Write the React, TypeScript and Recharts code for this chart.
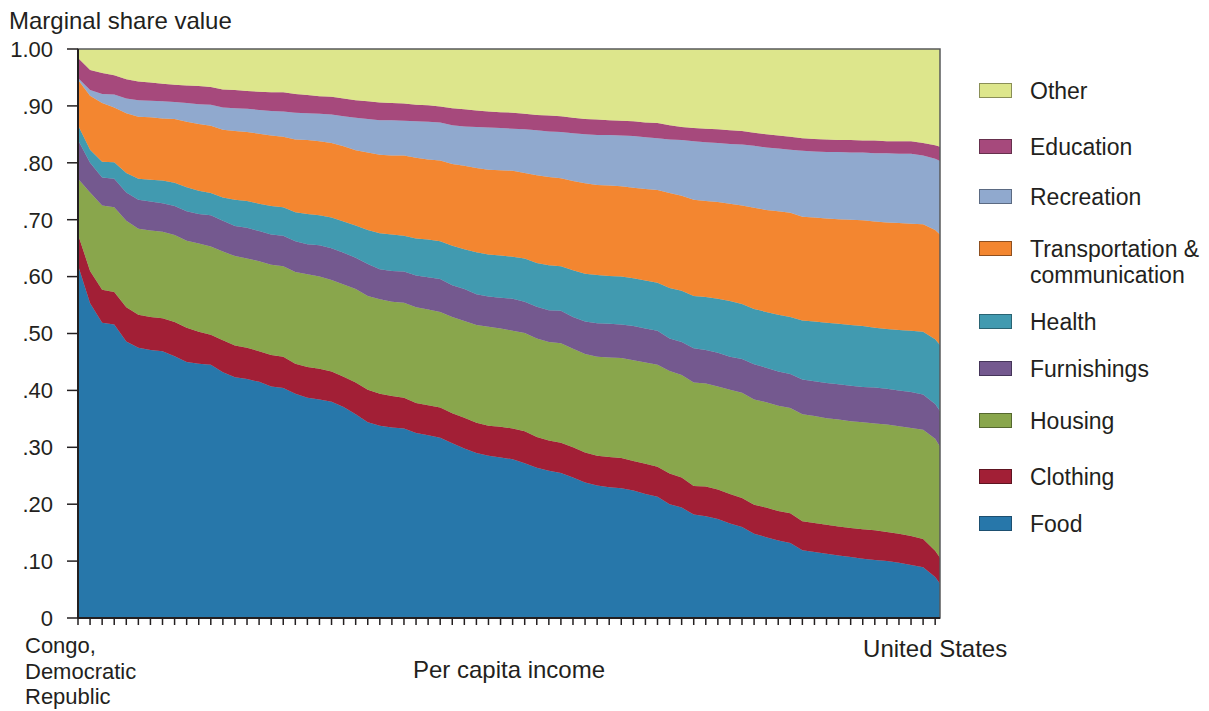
import React from "react";
import { AreaChart, Area, XAxis, YAxis, ReferenceArea } from "recharts";

// Countries ordered by per capita income (one tick per country group), last point at the frame edge
const xTicks = Array.from({ length: 72 }, (_, i) => i);
const positions = [...xTicks, 71.4];

const yTicks = [0, 0.1, 0.2, 0.3, 0.4, 0.5, 0.6, 0.7, 0.8, 0.9, 1.0];
const yTickLabels = ["0", ".10", ".20", ".30", ".40", ".50", ".60", ".70", ".80", ".90", "1.00"];

const firstCountry = "Congo, Democratic Republic";
const lastCountry = "United States";
const yTitle = "Marginal share value";
const xTitle = "Per capita income";

// Budget shares (stacked bottom -> top)
const food = [
  0.620, 0.553, 0.519, 0.516, 0.486, 0.475, 0.471, 0.469, 0.460, 0.450,
  0.447, 0.445, 0.432, 0.423, 0.420, 0.415, 0.407, 0.404, 0.394, 0.387,
  0.384, 0.380, 0.371, 0.358, 0.344, 0.338, 0.335, 0.333, 0.325, 0.321,
  0.317, 0.307, 0.298, 0.290, 0.285, 0.282, 0.279, 0.272, 0.264, 0.259,
  0.255, 0.247, 0.238, 0.233, 0.230, 0.228, 0.224, 0.218, 0.213, 0.200,
  0.194, 0.182, 0.179, 0.174, 0.166, 0.160, 0.148, 0.142, 0.136, 0.132,
  0.119, 0.116, 0.113, 0.110, 0.107, 0.104, 0.102, 0.100, 0.097, 0.093,
  0.089, 0.072, 0.060,
];
const clothing = [
  0.054, 0.057, 0.058, 0.057, 0.060, 0.058, 0.058, 0.058, 0.060, 0.060,
  0.056, 0.053, 0.056, 0.056, 0.055, 0.054, 0.055, 0.055, 0.053, 0.054,
  0.054, 0.053, 0.053, 0.056, 0.057, 0.056, 0.055, 0.054, 0.053, 0.053,
  0.053, 0.053, 0.054, 0.053, 0.053, 0.054, 0.054, 0.056, 0.054, 0.053,
  0.053, 0.053, 0.053, 0.052, 0.053, 0.053, 0.052, 0.053, 0.053, 0.054,
  0.053, 0.050, 0.052, 0.052, 0.052, 0.051, 0.051, 0.052, 0.052, 0.052,
  0.051, 0.051, 0.051, 0.051, 0.051, 0.052, 0.052, 0.051, 0.051, 0.051,
  0.050, 0.046, 0.046,
];
const housing = [
  0.098, 0.138, 0.148, 0.149, 0.152, 0.151, 0.152, 0.152, 0.153, 0.153,
  0.155, 0.155, 0.156, 0.157, 0.157, 0.158, 0.159, 0.159, 0.161, 0.163,
  0.162, 0.161, 0.162, 0.164, 0.165, 0.166, 0.166, 0.167, 0.168, 0.168,
  0.168, 0.169, 0.170, 0.172, 0.174, 0.173, 0.172, 0.173, 0.173, 0.173,
  0.175, 0.173, 0.173, 0.174, 0.175, 0.176, 0.177, 0.178, 0.179, 0.180,
  0.180, 0.182, 0.181, 0.181, 0.183, 0.185, 0.185, 0.185, 0.185, 0.185,
  0.188, 0.188, 0.187, 0.188, 0.188, 0.188, 0.188, 0.189, 0.189, 0.190,
  0.192, 0.197, 0.195,
];
const furnishings = [
  0.068, 0.052, 0.049, 0.050, 0.050, 0.051, 0.051, 0.050, 0.051, 0.052,
  0.052, 0.055, 0.054, 0.053, 0.054, 0.053, 0.053, 0.054, 0.054, 0.053,
  0.055, 0.056, 0.056, 0.055, 0.056, 0.053, 0.054, 0.055, 0.056, 0.057,
  0.058, 0.056, 0.056, 0.054, 0.053, 0.054, 0.056, 0.055, 0.056, 0.056,
  0.057, 0.056, 0.057, 0.059, 0.059, 0.059, 0.060, 0.060, 0.060, 0.057,
  0.058, 0.060, 0.059, 0.059, 0.058, 0.059, 0.062, 0.061, 0.060, 0.060,
  0.061, 0.061, 0.062, 0.062, 0.062, 0.062, 0.063, 0.063, 0.063, 0.063,
  0.062, 0.061, 0.063,
];
const health = [
  0.026, 0.023, 0.028, 0.029, 0.034, 0.037, 0.038, 0.040, 0.041, 0.042,
  0.041, 0.039, 0.041, 0.046, 0.047, 0.048, 0.050, 0.050, 0.051, 0.053,
  0.053, 0.054, 0.055, 0.057, 0.060, 0.063, 0.064, 0.063, 0.065, 0.066,
  0.066, 0.069, 0.070, 0.074, 0.074, 0.074, 0.074, 0.076, 0.077, 0.079,
  0.078, 0.082, 0.084, 0.085, 0.084, 0.084, 0.084, 0.084, 0.084, 0.089,
  0.090, 0.092, 0.093, 0.095, 0.098, 0.097, 0.097, 0.098, 0.100, 0.100,
  0.104, 0.105, 0.106, 0.106, 0.107, 0.107, 0.105, 0.105, 0.106, 0.108,
  0.110, 0.114, 0.116,
];
const transport = [
  0.080, 0.095, 0.103, 0.096, 0.105, 0.109, 0.110, 0.109, 0.112, 0.115,
  0.117, 0.118, 0.119, 0.121, 0.121, 0.123, 0.124, 0.124, 0.128, 0.130,
  0.130, 0.131, 0.132, 0.132, 0.136, 0.138, 0.139, 0.141, 0.142, 0.141,
  0.142, 0.144, 0.147, 0.148, 0.149, 0.150, 0.151, 0.150, 0.154, 0.155,
  0.155, 0.157, 0.159, 0.158, 0.159, 0.159, 0.159, 0.161, 0.163, 0.167,
  0.167, 0.169, 0.169, 0.170, 0.171, 0.173, 0.178, 0.179, 0.182, 0.183,
  0.182, 0.183, 0.183, 0.184, 0.185, 0.186, 0.187, 0.187, 0.188, 0.188,
  0.189, 0.192, 0.194,
];
const recreation = [
  0.003, 0.010, 0.016, 0.023, 0.026, 0.029, 0.029, 0.030, 0.030, 0.033,
  0.035, 0.037, 0.039, 0.040, 0.041, 0.042, 0.043, 0.044, 0.047, 0.047,
  0.048, 0.050, 0.053, 0.057, 0.059, 0.061, 0.062, 0.061, 0.064, 0.066,
  0.067, 0.068, 0.069, 0.072, 0.074, 0.074, 0.074, 0.077, 0.079, 0.080,
  0.081, 0.084, 0.086, 0.088, 0.089, 0.089, 0.091, 0.091, 0.091, 0.094,
  0.098, 0.103, 0.103, 0.104, 0.105, 0.107, 0.109, 0.110, 0.110, 0.111,
  0.116, 0.116, 0.117, 0.118, 0.118, 0.119, 0.120, 0.122, 0.122, 0.123,
  0.121, 0.125, 0.129,
];
const education = [
  0.035, 0.035, 0.037, 0.034, 0.034, 0.033, 0.032, 0.031, 0.030, 0.031,
  0.032, 0.031, 0.032, 0.032, 0.031, 0.032, 0.033, 0.034, 0.033, 0.032,
  0.031, 0.031, 0.031, 0.031, 0.031, 0.031, 0.030, 0.030, 0.029, 0.029,
  0.028, 0.030, 0.030, 0.029, 0.028, 0.028, 0.028, 0.027, 0.027, 0.028,
  0.028, 0.027, 0.027, 0.027, 0.026, 0.026, 0.026, 0.026, 0.027, 0.025,
  0.023, 0.023, 0.024, 0.024, 0.024, 0.024, 0.023, 0.023, 0.023, 0.023,
  0.022, 0.022, 0.022, 0.021, 0.022, 0.021, 0.022, 0.021, 0.022, 0.022,
  0.022, 0.024, 0.025,
];
const other = [
  0.016, 0.037, 0.042, 0.046, 0.053, 0.057, 0.059, 0.061, 0.063, 0.064,
  0.065, 0.067, 0.071, 0.072, 0.074, 0.075, 0.076, 0.076, 0.079, 0.081,
  0.083, 0.084, 0.087, 0.090, 0.092, 0.094, 0.095, 0.096, 0.098, 0.099,
  0.101, 0.104, 0.106, 0.108, 0.110, 0.111, 0.112, 0.114, 0.116, 0.117,
  0.118, 0.121, 0.123, 0.124, 0.125, 0.126, 0.127, 0.129, 0.130, 0.134,
  0.137, 0.139, 0.140, 0.141, 0.143, 0.144, 0.147, 0.150, 0.152, 0.154,
  0.157, 0.158, 0.159, 0.160, 0.160, 0.161, 0.161, 0.162, 0.162, 0.162,
  0.165, 0.169, 0.172,
];

const seriesKeys = ["Food", "Clothing", "Housing", "Furnishings", "Health", "Transportation & communication", "Recreation", "Education", "Other"];
const seriesValues = [food, clothing, housing, furnishings, health, transport, recreation, education, other];
const seriesColors = ["#2777aa", "#a21f36", "#89a64c", "#74598f", "#419ab0", "#f38630", "#90a9ce", "#a6497c", "#dde68c"];
const legendBorders = ["#1d4f70", "#5e1421", "#55682f", "#45355a", "#2a6473", "#8f5020", "#5b6a82", "#66304d", "#8a8f57"];

const data = positions.map((x, i) => {
  const row: Record<string, number> = { x };
  seriesKeys.forEach((k, s) => {
    row[k] = seriesValues[s][i];
  });
  return row;
});

const FONT = "'Liberation Sans', Arial, Helvetica, sans-serif";
const TEXT = "#231f20";
const FS_TICK = 22;
const FS_TEXT = 24;
const FS_LEGEND = 23;
const FS_FIRST = 22;

// layout: legend order (top -> bottom) and the vertical centre of each row's first line
const legendOrder = [8, 7, 6, 5, 4, 3, 2, 1, 0];
const legendRowCentres = [91, 147, 197, 249, 322, 369, 421, 477, 524];

const XTick = (props: any) => {
  const { x, y, payload } = props;
  if (payload.value === xTicks[0]) {
    const lines = firstCountry.split(" ");
    return (
      <text x={x - 53} y={y} fill={TEXT} fontSize={FS_FIRST} fontFamily={FONT} textAnchor="start">
        {lines.map((l, k) => (
          <tspan key={k} x={x - 53} dy={k === 0 ? 28 : 25.5}>
            {l}
          </tspan>
        ))}
      </text>
    );
  }
  if (payload.value === xTicks[xTicks.length - 1]) {
    return (
      <text x={x} y={y + 32} fill={TEXT} fontSize={FS_TEXT} fontFamily={FONT} textAnchor="middle">
        {lastCountry}
      </text>
    );
  }
  return <g />;
};

const YTitle = () => (
  <text x={9} y={29} fill={TEXT} fontSize={FS_TEXT} fontFamily={FONT} textAnchor="start">
    {yTitle}
  </text>
);

const legendLines = (name: string) => {
  const parts = name.split(" & ");
  return parts.length > 1 ? [parts[0] + " &", parts[1]] : [name];
};

export default function App() {
  return (
    <div style={{ position: "absolute", left: 0, top: 0, width: 1209, height: 711, background: "#fff", fontFamily: FONT, overflow: "hidden" }}>
      <AreaChart width={1209} height={711} data={data} margin={{ top: 49, right: 269, bottom: 63, left: 18 }}>
        <XAxis
          dataKey="x"
          type="number"
          domain={[0, 71.4]}
          ticks={xTicks}
          interval={0}
          height={30}
          tickSize={7}
          tickMargin={0}
          tick={<XTick />}
          tickLine={{ stroke: TEXT, strokeWidth: 1.5 }}
          axisLine={{ stroke: TEXT, strokeWidth: 2 }}
          allowDataOverflow
          label={{ value: xTitle, position: "bottom", offset: 13, fill: TEXT, fontSize: FS_TEXT, fontFamily: FONT }}
        />
        <YAxis
          type="number"
          domain={[0, 1]}
          ticks={yTicks}
          interval={0}
          width={60}
          tickSize={11}
          tickMargin={14}
          tickFormatter={(v: number) => yTickLabels[yTicks.indexOf(v)] ?? ""}
          tick={{ fill: TEXT, fontSize: FS_TICK, fontFamily: FONT }}
          tickLine={{ stroke: TEXT, strokeWidth: 1.5 }}
          axisLine={{ stroke: TEXT, strokeWidth: 2 }}
          allowDataOverflow
          label={<YTitle />}
        />
        {seriesKeys.map((k, s) => (
          <Area
            key={k}
            type="linear"
            dataKey={k}
            stackId="shares"
            stroke={seriesColors[s]}
            strokeWidth={0.5}
            fill={seriesColors[s]}
            fillOpacity={1}
            isAnimationActive={false}
            dot={false}
            activeDot={false}
          />
        ))}
        <ReferenceArea x1={0} x2={71.4} y1={0} y2={1} fill="none" stroke="#58595b" strokeWidth={1.5} ifOverflow="visible" />
      </AreaChart>
      {legendOrder.map((s, r) => (
        <div
          key={seriesKeys[s]}
          style={{
            position: "absolute",
            left: 979,
            top: legendRowCentres[r] - 13,
            display: "flex",
            alignItems: "flex-start",
            color: TEXT,
            fontSize: FS_LEGEND,
            fontFamily: FONT,
          }}
        >
          <div
            style={{
              width: 33,
              height: 15,
              marginTop: 5,
              background: seriesColors[s],
              border: `1px solid ${legendBorders[s]}`,
              boxSizing: "border-box",
              flex: "0 0 auto",
            }}
          />
          <div style={{ marginLeft: 18, lineHeight: "26px", whiteSpace: "nowrap" }}>
            {legendLines(seriesKeys[s]).map((l) => (
              <div key={l}>{l}</div>
            ))}
          </div>
        </div>
      ))}
    </div>
  );
}
